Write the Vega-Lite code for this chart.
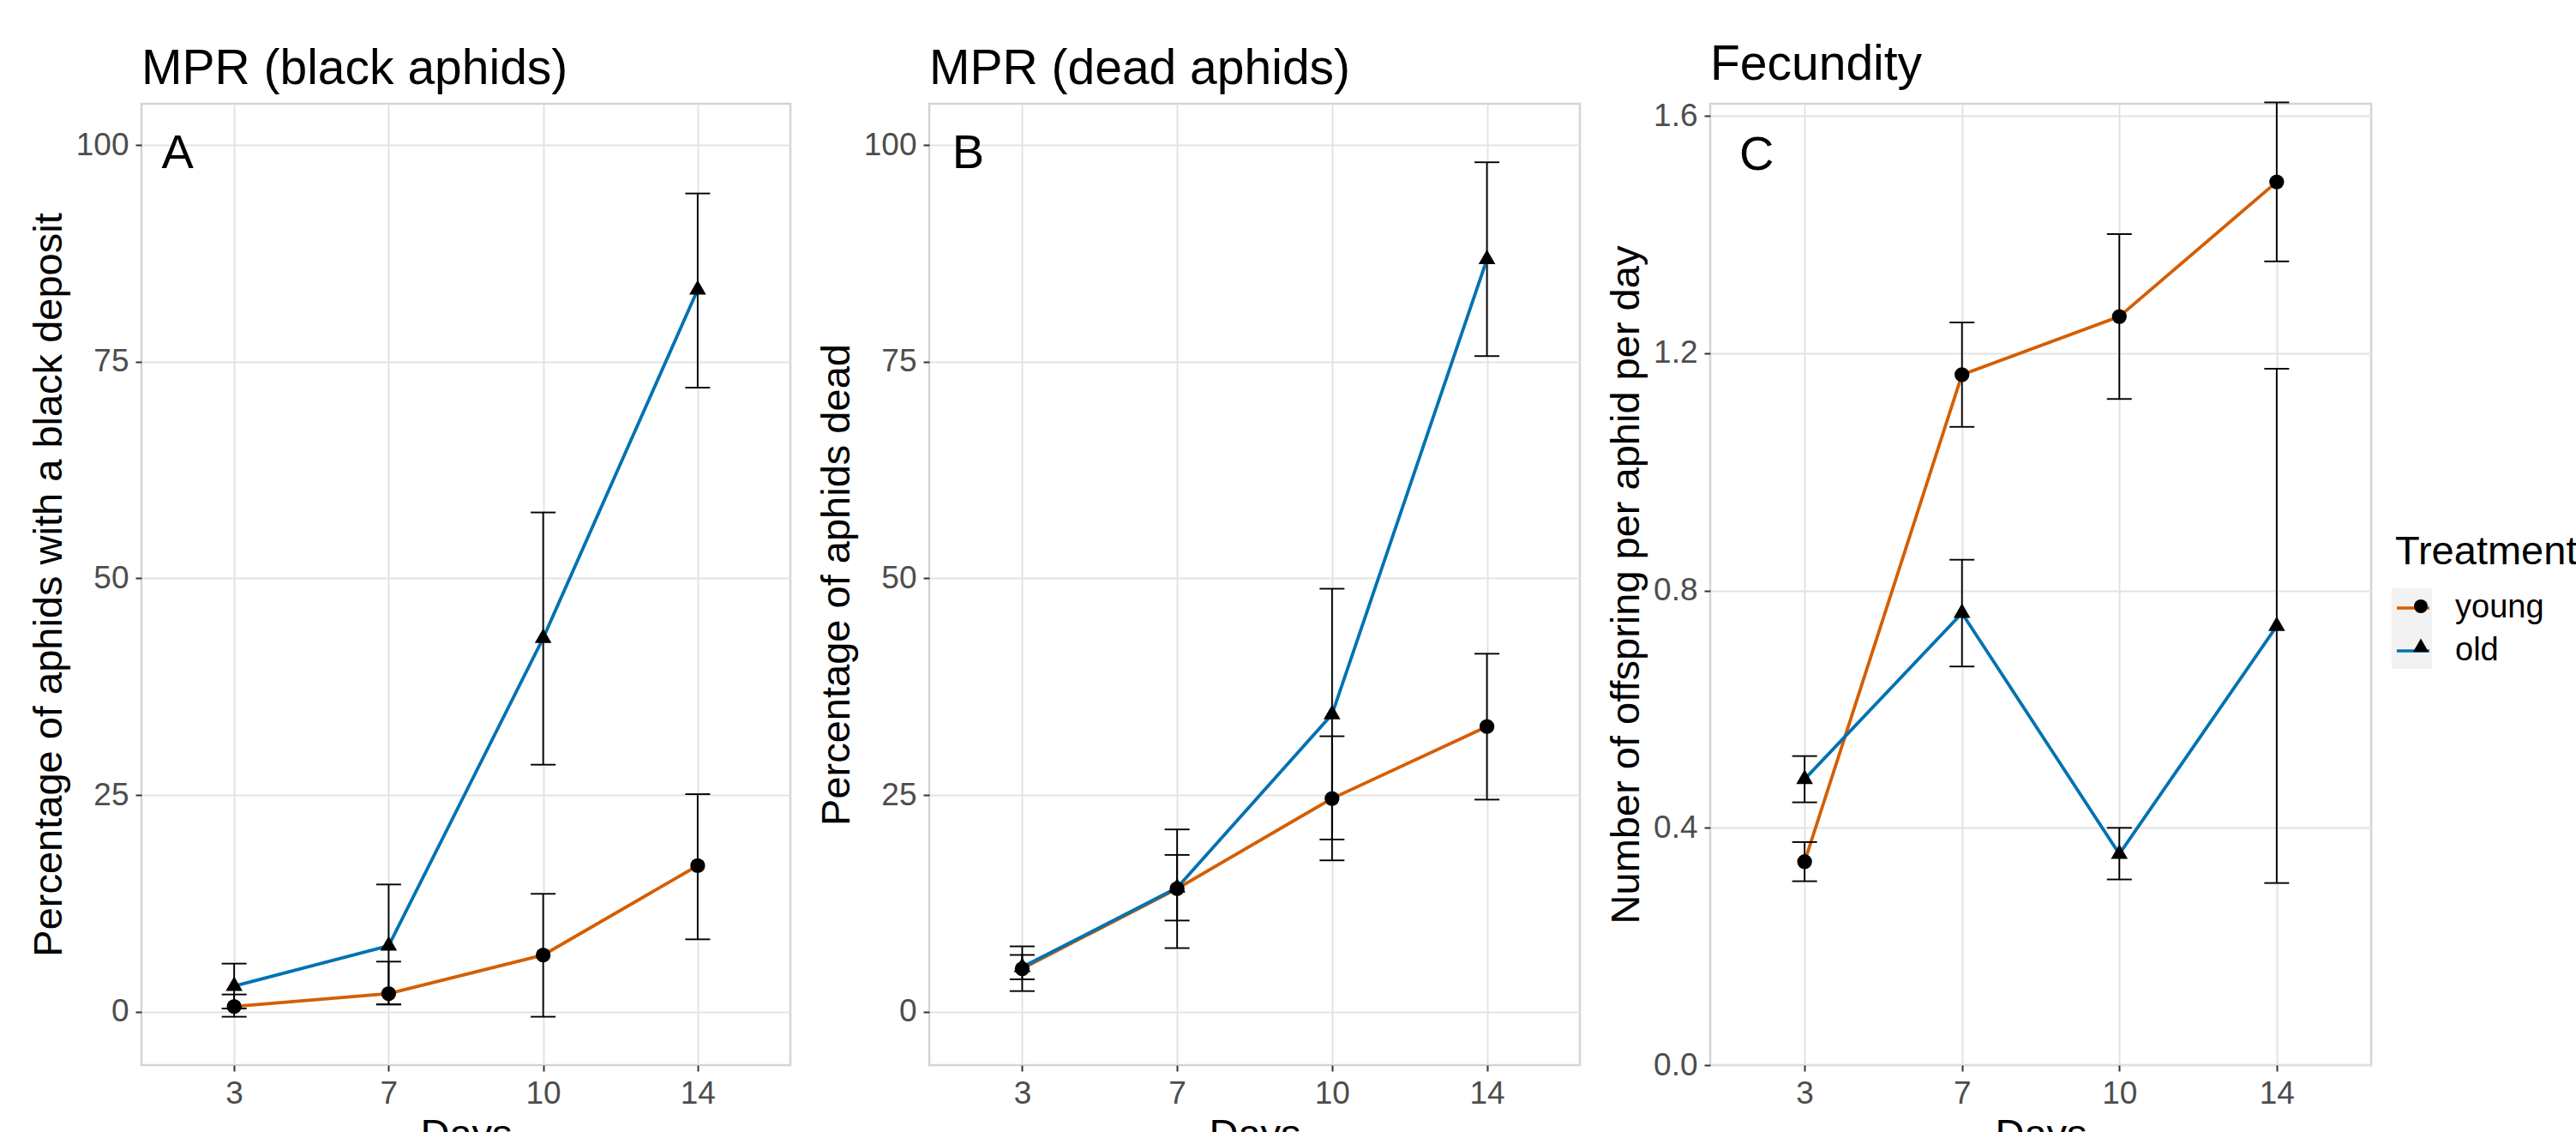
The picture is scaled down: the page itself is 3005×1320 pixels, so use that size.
{
  "$schema": "https://vega.github.io/schema/vega-lite/v6.json",
  "background": "white",
  "padding": {"left": 32, "top": 46, "right": 0, "bottom": 0},
  "datasets": {
    "d": [
      {"panel": "A", "Days": 3, "Treatment": "young", "value": 0.6, "lower": -0.58, "upper": 1.99},
      {"panel": "A", "Days": 7, "Treatment": "young", "value": 2.09, "lower": 0.84, "upper": 5.78},
      {"panel": "A", "Days": 10, "Treatment": "young", "value": 6.54, "lower": -0.58, "upper": 13.6},
      {"panel": "A", "Days": 14, "Treatment": "young", "value": 16.85, "lower": 8.35, "upper": 25.1},
      {"panel": "A", "Days": 3, "Treatment": "old", "value": 2.96, "lower": 0.37, "upper": 5.55},
      {"panel": "A", "Days": 7, "Treatment": "old", "value": 7.6, "lower": 0.84, "upper": 14.68},
      {"panel": "A", "Days": 10, "Treatment": "old", "value": 43.1, "lower": 28.5, "upper": 57.6},
      {"panel": "A", "Days": 14, "Treatment": "old", "value": 83.3, "lower": 72.0, "upper": 94.4},
      {"panel": "B", "Days": 3, "Treatment": "young", "value": 4.96, "lower": 2.38, "upper": 7.54},
      {"panel": "B", "Days": 7, "Treatment": "young", "value": 14.2, "lower": 7.34, "upper": 21.03},
      {"panel": "B", "Days": 10, "Treatment": "young", "value": 24.6, "lower": 17.46, "upper": 31.78},
      {"panel": "B", "Days": 14, "Treatment": "young", "value": 32.9, "lower": 24.47, "upper": 41.3},
      {"panel": "B", "Days": 3, "Treatment": "old", "value": 5.14, "lower": 3.74, "upper": 6.55},
      {"panel": "B", "Days": 7, "Treatment": "old", "value": 14.3, "lower": 10.52, "upper": 18.09},
      {"panel": "B", "Days": 10, "Treatment": "old", "value": 34.3, "lower": 19.87, "upper": 48.8},
      {"panel": "B", "Days": 14, "Treatment": "old", "value": 86.8, "lower": 75.64, "upper": 98.0},
      {"panel": "C", "Days": 3, "Treatment": "young", "value": 0.343, "lower": 0.31, "upper": 0.376},
      {"panel": "C", "Days": 7, "Treatment": "young", "value": 1.164, "lower": 1.076, "upper": 1.252},
      {"panel": "C", "Days": 10, "Treatment": "young", "value": 1.262, "lower": 1.123, "upper": 1.401},
      {"panel": "C", "Days": 14, "Treatment": "young", "value": 1.489, "lower": 1.355, "upper": 1.623},
      {"panel": "C", "Days": 3, "Treatment": "old", "value": 0.482, "lower": 0.443, "upper": 0.521},
      {"panel": "C", "Days": 7, "Treatment": "old", "value": 0.762, "lower": 0.672, "upper": 0.852},
      {"panel": "C", "Days": 10, "Treatment": "old", "value": 0.356, "lower": 0.313, "upper": 0.4},
      {"panel": "C", "Days": 14, "Treatment": "old", "value": 0.74, "lower": 0.307, "upper": 1.174}
    ]
  },
  "data": {"name": "d"},
  "align": "none",
  "spacing": 27,
  "resolve": {"scale": {"x": "independent", "y": "independent", "color": "shared", "shape": "shared", "strokeDash": "shared"}},
  "hconcat": [
    {
      "width": 757, "height": 1121,
      "title": {"text": "MPR (black aphids)"},
      "encoding": {
        "x": {"field": "Days", "type": "ordinal", "scale": {"type": "point", "padding": 0.6}, "axis": {"title": "Days", "labelAngle": 0, "grid": true}}
      },
      "layer": [
        {"transform": [{"filter": "datum.panel === 'A'"}], "mark": {"type": "rule", "color": "black", "strokeWidth": 1.9},
         "encoding": {"y": {"field": "lower", "type": "quantitative", "title": "Percentage of aphids with a black deposit", "scale": {"domain": [-6.16, 104.75], "nice": false, "zero": false}, "axis": {"values": [0, 25, 50, 75, 100]}}, "y2": {"field": "upper"},
           "strokeDash": {"field": "Treatment", "type": "nominal", "sort": ["young", "old"], "scale": {"range": [[1, 0], [1, 0]]},
             "legend": {"title": null, "orient": "none", "legendX": 2625, "legendY": 565, "symbolType": "square", "symbolSize": 2209, "symbolFillColor": "#F2F2F2", "symbolStrokeColor": "#F2F2F2", "symbolStrokeWidth": 0, "labelExpr": "''", "rowPadding": -1.5}}}},
        {"transform": [{"filter": "datum.panel === 'A'"}], "mark": {"type": "line", "strokeWidth": 3.8},
         "encoding": {
           "y": {"field": "value", "type": "quantitative", "title": "Percentage of aphids with a black deposit"},
           "color": {"field": "Treatment", "type": "nominal", "scale": {"domain": ["young", "old"], "range": ["#D55E00", "#0072B2"]},
             "legend": {"title": "Treatment", "orient": "none", "legendX": 2629, "legendY": 500, "symbolType": "stroke", "symbolSize": 1444, "symbolStrokeWidth": 3.5, "titlePadding": 20, "rowPadding": 10, "labelOffset": 28, "titleLimit": 1000}}
         }},
        {"transform": [{"filter": "datum.panel === 'A'"}], "mark": {"type": "tick", "color": "black", "thickness": 1.9, "size": 29, "opacity": 1},
         "encoding": {"y": {"field": "lower", "type": "quantitative", "title": "Percentage of aphids with a black deposit"}}},
        {"transform": [{"filter": "datum.panel === 'A'"}], "mark": {"type": "tick", "color": "black", "thickness": 1.9, "size": 29, "opacity": 1},
         "encoding": {"y": {"field": "upper", "type": "quantitative", "title": "Percentage of aphids with a black deposit"}}},
        {"transform": [{"filter": "datum.panel === 'A'"}], "mark": {"type": "point", "filled": true, "color": "black", "size": 300, "opacity": 1},
         "encoding": {
           "y": {"field": "value", "type": "quantitative", "title": "Percentage of aphids with a black deposit"},
           "shape": {"field": "Treatment", "type": "nominal", "sort": "descending", "scale": {"range": ["circle", "M0,-1.307L1.132,0.653L-1.132,0.653Z"]},
             "legend": {"title": null, "orient": "none", "legendX": 2640, "legendY": 567, "symbolSize": 256, "symbolFillColor": "black", "symbolStrokeWidth": 0, "labelExpr": "''", "rowPadding": 10, "labelOffset": 28}}
         }},
        {"data": {"values": [{"label": "A"}]}, "mark": {"type": "text", "fontSize": 56, "dx": -66, "align": "center", "baseline": "middle", "color": "black"},
         "encoding": {"x": {"datum": 3}, "y": {"datum": 99}, "text": {"field": "label"}}}
      ]
    },
    {
      "width": 759, "height": 1121,
      "title": {"text": "MPR (dead aphids)"},
      "encoding": {
        "x": {"field": "Days", "type": "ordinal", "scale": {"type": "point", "padding": 0.6}, "axis": {"title": "Days", "labelAngle": 0, "grid": true}}
      },
      "layer": [
        {"transform": [{"filter": "datum.panel === 'B'"}], "mark": {"type": "rule", "color": "black", "strokeWidth": 1.9},
         "encoding": {"y": {"field": "lower", "type": "quantitative", "title": "Percentage of aphids dead", "scale": {"domain": [-6.16, 104.75], "nice": false, "zero": false}, "axis": {"values": [0, 25, 50, 75, 100]}}, "y2": {"field": "upper"},
           "strokeDash": {"field": "Treatment", "type": "nominal", "sort": ["young", "old"], "scale": {"range": [[1, 0], [1, 0]]},
             "legend": {"title": null, "orient": "none", "legendX": 2625, "legendY": 565, "symbolType": "square", "symbolSize": 2209, "symbolFillColor": "#F2F2F2", "symbolStrokeColor": "#F2F2F2", "symbolStrokeWidth": 0, "labelExpr": "''", "rowPadding": -1.5}}}},
        {"transform": [{"filter": "datum.panel === 'B'"}], "mark": {"type": "line", "strokeWidth": 3.8},
         "encoding": {
           "y": {"field": "value", "type": "quantitative", "title": "Percentage of aphids dead"},
           "color": {"field": "Treatment", "type": "nominal", "scale": {"domain": ["young", "old"], "range": ["#D55E00", "#0072B2"]},
             "legend": {"title": "Treatment", "orient": "none", "legendX": 2629, "legendY": 500, "symbolType": "stroke", "symbolSize": 1444, "symbolStrokeWidth": 3.5, "titlePadding": 20, "rowPadding": 10, "labelOffset": 28, "titleLimit": 1000}}
         }},
        {"transform": [{"filter": "datum.panel === 'B'"}], "mark": {"type": "tick", "color": "black", "thickness": 1.9, "size": 29, "opacity": 1},
         "encoding": {"y": {"field": "lower", "type": "quantitative", "title": "Percentage of aphids dead"}}},
        {"transform": [{"filter": "datum.panel === 'B'"}], "mark": {"type": "tick", "color": "black", "thickness": 1.9, "size": 29, "opacity": 1},
         "encoding": {"y": {"field": "upper", "type": "quantitative", "title": "Percentage of aphids dead"}}},
        {"transform": [{"filter": "datum.panel === 'B'"}], "mark": {"type": "point", "filled": true, "color": "black", "size": 300, "opacity": 1},
         "encoding": {
           "y": {"field": "value", "type": "quantitative", "title": "Percentage of aphids dead"},
           "shape": {"field": "Treatment", "type": "nominal", "sort": "descending", "scale": {"range": ["circle", "M0,-1.307L1.132,0.653L-1.132,0.653Z"]},
             "legend": {"title": null, "orient": "none", "legendX": 2640, "legendY": 567, "symbolSize": 256, "symbolFillColor": "black", "symbolStrokeWidth": 0, "labelExpr": "''", "rowPadding": 10, "labelOffset": 28}}
         }},
        {"data": {"values": [{"label": "B"}]}, "mark": {"type": "text", "fontSize": 56, "dx": -63, "align": "center", "baseline": "middle", "color": "black"},
         "encoding": {"x": {"datum": 3}, "y": {"datum": 99}, "text": {"field": "label"}}}
      ]
    },
    {
      "width": 771, "height": 1121,
      "title": {"text": "Fecundity"},
      "encoding": {
        "x": {"field": "Days", "type": "ordinal", "scale": {"type": "point", "padding": 0.6}, "axis": {"title": "Days", "labelAngle": 0, "grid": true}}
      },
      "layer": [
        {"transform": [{"filter": "datum.panel === 'C'"}], "mark": {"type": "rule", "color": "black", "strokeWidth": 1.9},
         "encoding": {"y": {"field": "lower", "type": "quantitative", "title": "Number of offspring per aphid per day", "scale": {"domain": [0, 1.6207], "nice": false, "zero": false}, "axis": {"values": [0, 0.4, 0.8, 1.2, 1.6], "format": ".1f"}}, "y2": {"field": "upper"},
           "strokeDash": {"field": "Treatment", "type": "nominal", "sort": ["young", "old"], "scale": {"range": [[1, 0], [1, 0]]},
             "legend": {"title": null, "orient": "none", "legendX": 2625, "legendY": 565, "symbolType": "square", "symbolSize": 2209, "symbolFillColor": "#F2F2F2", "symbolStrokeColor": "#F2F2F2", "symbolStrokeWidth": 0, "labelExpr": "''", "rowPadding": -1.5}}}},
        {"transform": [{"filter": "datum.panel === 'C'"}], "mark": {"type": "line", "strokeWidth": 3.8},
         "encoding": {
           "y": {"field": "value", "type": "quantitative", "title": "Number of offspring per aphid per day"},
           "color": {"field": "Treatment", "type": "nominal", "scale": {"domain": ["young", "old"], "range": ["#D55E00", "#0072B2"]},
             "legend": {"title": "Treatment", "orient": "none", "legendX": 2629, "legendY": 500, "symbolType": "stroke", "symbolSize": 1444, "symbolStrokeWidth": 3.5, "titlePadding": 20, "rowPadding": 10, "labelOffset": 28, "titleLimit": 1000}}
         }},
        {"transform": [{"filter": "datum.panel === 'C'"}], "mark": {"type": "tick", "color": "black", "thickness": 1.9, "size": 29, "opacity": 1},
         "encoding": {"y": {"field": "lower", "type": "quantitative", "title": "Number of offspring per aphid per day"}}},
        {"transform": [{"filter": "datum.panel === 'C'"}], "mark": {"type": "tick", "color": "black", "thickness": 1.9, "size": 29, "opacity": 1},
         "encoding": {"y": {"field": "upper", "type": "quantitative", "title": "Number of offspring per aphid per day"}}},
        {"transform": [{"filter": "datum.panel === 'C'"}], "mark": {"type": "point", "filled": true, "color": "black", "size": 300, "opacity": 1},
         "encoding": {
           "y": {"field": "value", "type": "quantitative", "title": "Number of offspring per aphid per day"},
           "shape": {"field": "Treatment", "type": "nominal", "sort": "descending", "scale": {"range": ["circle", "M0,-1.307L1.132,0.653L-1.132,0.653Z"]},
             "legend": {"title": null, "orient": "none", "legendX": 2640, "legendY": 567, "symbolSize": 256, "symbolFillColor": "black", "symbolStrokeWidth": 0, "labelExpr": "''", "rowPadding": 10, "labelOffset": 28}}
         }},
        {"data": {"values": [{"label": "C"}]}, "mark": {"type": "text", "fontSize": 56, "dx": -56, "align": "center", "baseline": "middle", "color": "black"},
         "encoding": {"x": {"datum": 3}, "y": {"datum": 1.534}, "text": {"field": "label"}}}
      ]
    }
  ],
  "config": {
    "font": "Liberation Sans",
    "view": {"stroke": "#D4D4D4", "strokeWidth": 2.5},
    "axis": {
      "gridColor": "#E3E3E3", "gridWidth": 2, "domain": false,
      "tickColor": "#333333", "tickWidth": 2, "tickSize": 7,
      "labelFont": "Liberation Sans", "labelFontSize": 37, "labelColor": "#4D4D4D", "labelPadding": 8,
      "titleFont": "Liberation Sans", "titleFontSize": 47, "titleFontWeight": "normal", "titleColor": "black", "titlePadding": 7
    },
    "title": {"font": "Liberation Sans", "fontSize": 57, "fontWeight": "normal", "anchor": "start", "frame": "group", "color": "black", "offset": 11, "baseline": "top"},
    "legend": {
      "padding": 0, "offset": 0,
      "titleFont": "Liberation Sans", "titleFontSize": 47, "titleFontWeight": "normal", "titleColor": "black",
      "labelFont": "Liberation Sans", "labelFontSize": 38, "labelColor": "black"
    }
  }
}
